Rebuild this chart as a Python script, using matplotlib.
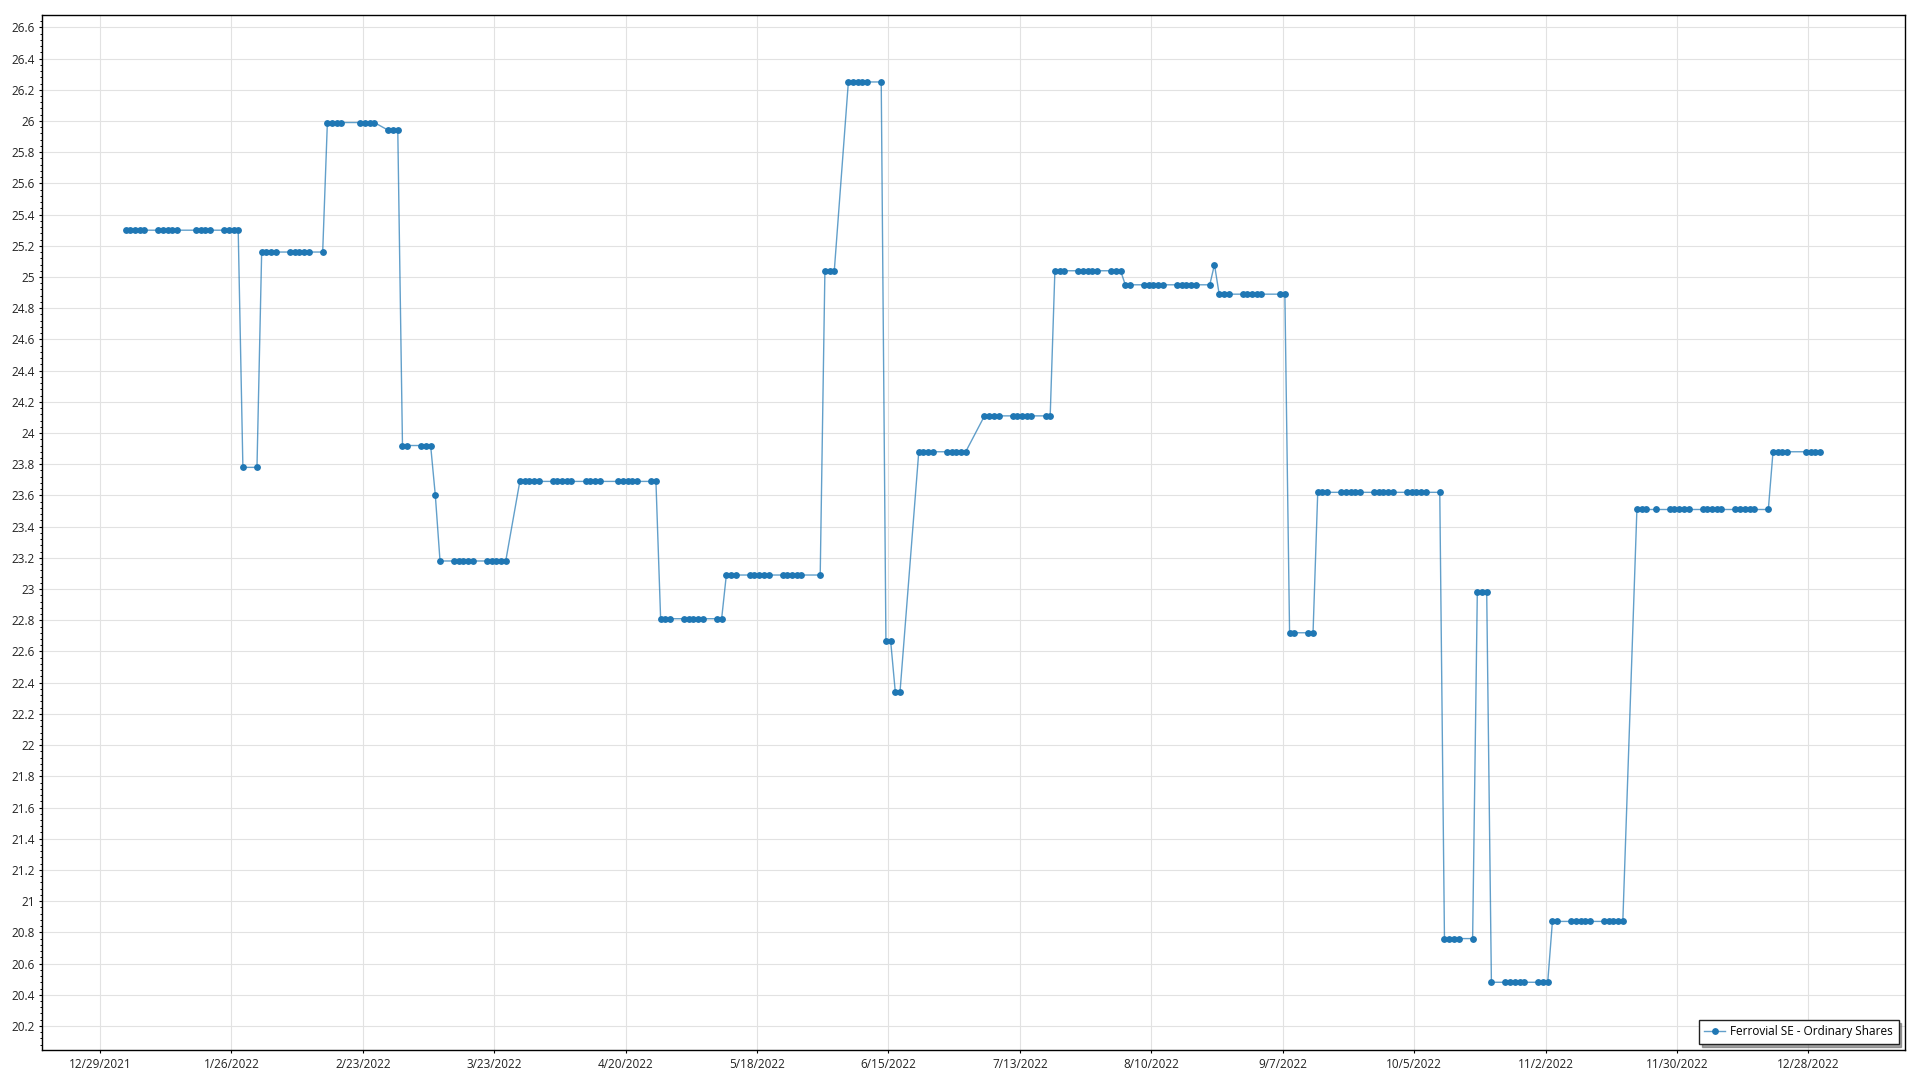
#!/usr/bin/env python3
import matplotlib

matplotlib.use("Agg")
import matplotlib.pyplot as plt
import pandas as pd
from matplotlib.lines import Line2D
from matplotlib.ticker import FuncFormatter, MultipleLocator

SERIES_NAME = "Ferrovial SE - Ordinary Shares"
LINE_COLOR = "#1f77b4"

# market holidays: no point is drawn on these weekdays
holidays = ["2022-01-17", "2022-02-21", "2022-04-15", "2022-05-30", "2022-06-20",
            "2022-07-04", "2022-09-05", "2022-11-24", "2022-12-26"]

# daily close, one line per trading week
prices = [
    25.30, 25.30, 25.30, 25.30, 25.30,
    25.30, 25.30, 25.30, 25.30, 25.30,
    25.30, 25.30, 25.30, 25.30,
    25.30, 25.30, 25.30, 25.30, 23.78,
    23.78, 25.16, 25.16, 25.16, 25.16,
    25.16, 25.16, 25.16, 25.16, 25.16,
    25.16, 25.99, 25.99, 25.99, 25.99,
    25.99, 25.99, 25.99, 25.99,
    25.94, 25.94, 25.94, 23.92, 23.92,
    23.92, 23.92, 23.92, 23.60, 23.18,
    23.18, 23.18, 23.18, 23.18, 23.18,
    23.18, 23.18, 23.18, 23.18, 23.18,
    23.69, 23.69, 23.69, 23.69, 23.69,
    23.69, 23.69, 23.69, 23.69, 23.69,
    23.69, 23.69, 23.69, 23.69,
    23.69, 23.69, 23.69, 23.69, 23.69,
    23.69, 23.69, 22.81, 22.81, 22.81,
    22.81, 22.81, 22.81, 22.81, 22.81,
    22.81, 22.81, 23.09, 23.09, 23.09,
    23.09, 23.09, 23.09, 23.09, 23.09,
    23.09, 23.09, 23.09, 23.09, 23.09,
    23.09, 25.04, 25.04, 25.04,
    26.25, 26.25, 26.25, 26.25, 26.25,
    26.25, 22.67, 22.67, 22.34, 22.34,
    23.88, 23.88, 23.88, 23.88,
    23.88, 23.88, 23.88, 23.88, 23.88,
    24.11, 24.11, 24.11, 24.11,
    24.11, 24.11, 24.11, 24.11, 24.11,
    24.11, 24.11, 25.04, 25.04, 25.04,
    25.04, 25.04, 25.04, 25.04, 25.04,
    25.04, 25.04, 25.04, 24.95, 24.95,
    24.95, 24.95, 24.95, 24.95, 24.95,
    24.95, 24.95, 24.95, 24.95, 24.95,
    24.95, 25.08, 24.89, 24.89, 24.89,
    24.89, 24.89, 24.89, 24.89, 24.89,
    24.89, 24.89, 22.72, 22.72,
    22.72, 22.72, 23.62, 23.62, 23.62,
    23.62, 23.62, 23.62, 23.62, 23.62,
    23.62, 23.62, 23.62, 23.62, 23.62,
    23.62, 23.62, 23.62, 23.62, 23.62,
    23.62, 20.76, 20.76, 20.76, 20.76,
    20.76, 22.98, 22.98, 22.98, 20.48,
    20.48, 20.48, 20.48, 20.48, 20.48,
    20.48, 20.48, 20.48, 20.87, 20.87,
    20.87, 20.87, 20.87, 20.87, 20.87,
    20.87, 20.87, 20.87, 20.87, 20.87,
    23.51, 23.51, 23.51, 23.51,
    23.51, 23.51, 23.51, 23.51, 23.51,
    23.51, 23.51, 23.51, 23.51, 23.51,
    23.51, 23.51, 23.51, 23.51, 23.51,
    23.51, 23.88, 23.88, 23.88, 23.88,
    23.88, 23.88, 23.88, 23.88,
]

first_day = "2022-01-03"
last_day = "2022-12-30"
tick_start = "2021-12-29"
tick_end = "2022-12-28"
tick_step = "28D"


def date_label(v, _pos):
    d = matplotlib.dates.num2date(v)
    return f"{d.month}/{d.day}/{d.year}"


def price_label(v, _pos):
    return f"{v:.1f}".rstrip("0").rstrip(".")


def main():
    plt.rcParams["font.family"] = ["Open Sans", "DejaVu Sans"]
    plt.rcParams["font.size"] = 8.5

    days = pd.bdate_range(first_day, last_day, freq="C", holidays=holidays)
    assert len(days) == len(prices), (len(days), len(prices))
    # points sit a little after midnight of their day in the original
    x = days + pd.Timedelta(hours=11)

    fig = plt.figure(figsize=(19.2, 10.8), dpi=100)
    ax = fig.add_axes([0.0220, 0.0275, 0.9702, 0.9583])

    line, = ax.plot(x, prices, color=LINE_COLOR, lw=1.0, alpha=0.7, zorder=3)
    dots, = ax.plot(x, prices, ls="none", marker="o", ms=3.9,
                    color=LINE_COLOR, zorder=4)

    ax.set_xlim(pd.Timestamp("2021-12-16 17:00"), pd.Timestamp("2023-01-17 14:00"))
    ax.set_ylim(20.044, 26.677)

    ax.set_xticks(pd.date_range(tick_start, tick_end, freq=tick_step))
    ax.xaxis.set_major_formatter(FuncFormatter(date_label))
    ax.yaxis.set_major_locator(MultipleLocator(0.2))
    ax.yaxis.set_minor_locator(MultipleLocator(0.04))
    ax.yaxis.set_major_formatter(FuncFormatter(price_label))

    ax.grid(True, which="major", color="#e2e2e2", lw=0.8, zorder=0)
    ax.set_axisbelow(True)
    ax.tick_params(axis="both", which="major", length=2.5, width=0.8,
                   color="black", labelcolor="#222222", pad=3)
    ax.tick_params(axis="y", which="minor", length=1.6, width=0.7, color="black")
    for sp in ax.spines.values():
        sp.set_color("black")
        sp.set_linewidth(1.0)

    leg = ax.legend([(line, dots)], [SERIES_NAME], loc="lower right",
                    fancybox=False, shadow=True, framealpha=1,
                    borderaxespad=0.55, borderpad=0.45, handlelength=1.7,
                    handletextpad=0.5, fontsize=8.5)
    leg.get_frame().set_edgecolor("#222222")
    leg.get_frame().set_linewidth(1.0)

    fig.savefig("out.png", dpi=100, facecolor="white")


if __name__ == "__main__":
    main()
